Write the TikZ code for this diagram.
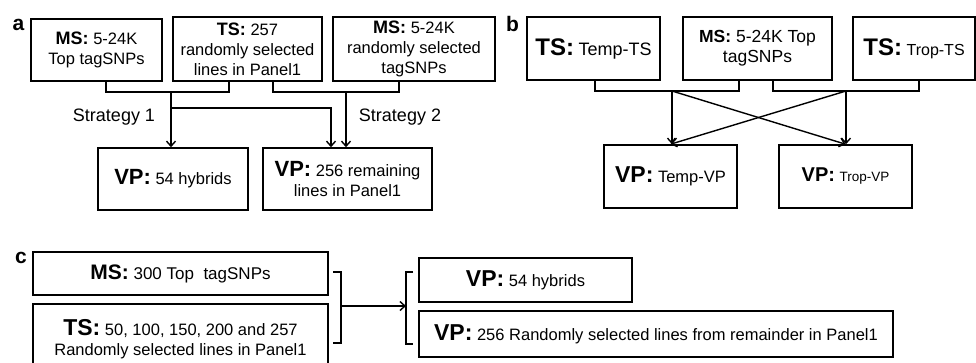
\documentclass[tikz,border=0pt]{standalone}
\usepackage{fontspec}
\setmainfont{Liberation Sans}
\usetikzlibrary{arrows.meta}

\newcommand{\hdr}[2]{{\fontsize{#1}{#1}\selectfont\bfseries #2}}
\newcommand{\fsz}[1]{\fontsize{#1}{20}\selectfont}

\tikzset{
  box/.style={draw, line width=1.6pt, inner sep=0pt, align=center, font=\fsz{16.5}},
  link/.style={line width=1.4pt},
  panel/.style={anchor=base, font=\fontsize{21}{21}\selectfont\bfseries},
}

\begin{document}
\begin{tikzpicture}[x=1pt, y=-1pt, >={Straight Barb[length=5pt,width=9pt]}]

        \useasboundingbox (0,0) rectangle (976,362);

        % panel a
        \node[panel] (la) at (18.5,30) {a};
        \node[box, minimum width=131pt, minimum height=62pt] (msA) at (96.5,50) {\hdr{18}{MS:} 5-24K\\Top tagSNPs};
        \node[box, minimum width=149pt, minimum height=64pt] (tsA) at (247.5,49) {\hdr{18}{TS:} 257\\randomly selected\\lines in Panel1};
        \node[box, minimum width=162pt, minimum height=64pt] (ms2A) at (414,49) {\hdr{18}{MS:} 5-24K\\randomly selected\\tagSNPs};
        \node[box, minimum width=150pt, minimum height=62pt] (vp1A) at (173,179) {\hdr{22}{VP:} 54 hybrids};
        \node[box, minimum width=169pt, minimum height=62pt] (vp2A) at (347.5,179) {\hdr{22}{VP:} 256 remaining\\lines in Panel1};
        \node[font=\fsz{18}] (st1) at (114,117) {Strategy 1};
        \node[font=\fsz{18}] (st2) at (400,117) {Strategy 2};

        \coordinate (a1) at (106,92);
        \coordinate (a2) at (229,92);
        \coordinate (ja) at (171,92);
        \coordinate (ka) at (171,108);
        \coordinate (kb) at (331,108);
        \coordinate (a3) at (273,92);
        \coordinate (a4) at (399,92);
        \coordinate (jb) at (346,92);

        \draw[link] (msA.south -| a1) -- (a1) -- (a2) -- (tsA.south -| a2);
        \draw[link] (tsA.south -| a3) -- (a3) -- (a4) -- (ms2A.south -| a4);
        \draw[link, ->] (ja) -- (vp1A.north -| ja);
        \draw[link, ->] (ka) -- (kb) -- (vp2A.north -| kb);
        \draw[link, ->] (jb) -- (vp2A.north -| jb);

        % panel b
        \node[panel] (lb) at (512.5,31) {b};
        \node[box, minimum width=133pt, minimum height=63pt] (tsB1) at (593.5,48.5) {\hdr{24}{TS:} \fsz{18}Temp-TS};
        \node[box, minimum width=149pt, minimum height=63pt, font=\fsz{17.5}] (msB) at (757.5,48.5) {\hdr{17.5}{MS:} 5-24K Top\\tagSNPs};
        \node[box, minimum width=122pt, minimum height=63pt] (tsB2) at (914,48.5) {\hdr{24}{TS:} \fsz{16}Trop-TS};
        \node[box, minimum width=133pt, minimum height=63pt] (vpB1) at (670.5,176.5) {\hdr{23}{VP:} \fsz{16.5}Temp-VP};
        \node[box, minimum width=133pt, minimum height=63pt] (vpB2) at (845.5,176.5) {\hdr{20}{VP:} \fsz{13.5}Trop-VP};

        \coordinate (b1) at (595,91);
        \coordinate (b2) at (739,91);
        \coordinate (jc) at (672,91);
        \coordinate (b3) at (773,91);
        \coordinate (b4) at (919,91);
        \coordinate (jd) at (846,91);

        \draw[link] (tsB1.south -| b1) -- (b1) -- (b2) -- (msB.south -| b2);
        \draw[link] (msB.south -| b3) -- (b3) -- (b4) -- (tsB2.south -| b4);
        \draw[link, ->] (jc) -- (vpB1.north -| jc);
        \draw[link, ->] (jc) -- (vpB2.north);
        \draw[link, ->] (jd) -- (vpB2.north -| jd);
        \draw[link, ->] (jd) -- (vpB1.north);

        % panel c
        \node[panel] (lc) at (21,263) {c};
        \node[box, minimum width=295pt, minimum height=43pt, font=\fsz{17}] (msC) at (180.5,273.5) {\hdr{21}{MS:} 300 Top\ \ tagSNPs};
        \node[box, minimum width=295pt, minimum height=70pt] (tsC) at (180.5,339) {\hdr{23}{TS:} 50, 100, 150, 200 and 257\\Randomly selected lines in Panel1};
        \node[box, minimum width=213pt, minimum height=44pt] (vpC1) at (525.5,280) {\hdr{23}{VP:} 54 hybrids};
        \node[box, minimum width=474pt, minimum height=46pt] (vpC2) at (656,334) {\hdr{23}{VP:} 256 Randomly selected lines from remainder in Panel1};

        \coordinate (c1) at (333,272);
        \coordinate (c2) at (341,272);
        \coordinate (c3) at (341,343);
        \coordinate (c4) at (333,343);
        \coordinate (jr) at (341,306);
        \coordinate (c5) at (413,272);
        \coordinate (c6) at (406,272);
        \coordinate (c7) at (406,344);
        \coordinate (c8) at (413,344);
        \coordinate (jl) at (406,306);

        \draw[link] (c1) -- (c2) -- (c3) -- (c4);
        \draw[link] (c5) -- (c6) -- (c7) -- (c8);
        \draw[link, ->] (jr) -- (jl);

\end{tikzpicture}
\end{document}
